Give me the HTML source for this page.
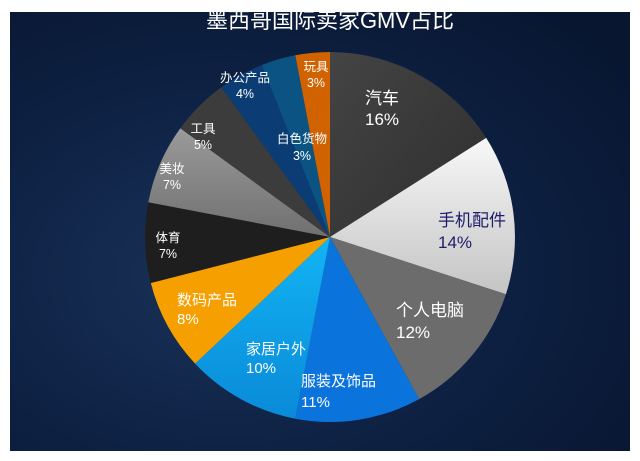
<!DOCTYPE html>
<html><head><meta charset="utf-8"><style>
html,body{margin:0;padding:0;background:#fff;width:640px;height:461px;overflow:hidden}
svg{display:block}
text{font-family:"Liberation Sans","Noto Sans CJK SC",sans-serif;fill:#fff}
</style></head><body>
<svg width="640" height="461" viewBox="0 0 640 461">
<defs>
<radialGradient id="bg" cx="0.35" cy="0.6" r="0.8">
<stop offset="0" stop-color="#1a3358"/><stop offset="0.5" stop-color="#0e2245"/><stop offset="1" stop-color="#081630"/>
</radialGradient>
<linearGradient id="g1" x1="0" y1="0" x2="1" y2="1"><stop offset="0" stop-color="#444"/><stop offset="1" stop-color="#2e2e2e"/></linearGradient>
<linearGradient id="g2" x1="0" y1="0" x2="0" y2="1"><stop offset="0" stop-color="#f8f8f8"/><stop offset="1" stop-color="#c4c4c4"/></linearGradient>
<linearGradient id="g5" x1="0" y1="0" x2="0" y2="1"><stop offset="0" stop-color="#12b4f4"/><stop offset="1" stop-color="#0a8ad8"/></linearGradient>
<linearGradient id="g8" x1="0" y1="0" x2="0" y2="1"><stop offset="0" stop-color="#9a9a9a"/><stop offset="1" stop-color="#707070"/></linearGradient>
</defs>
<rect x="10" y="12" width="620" height="439" fill="url(#bg)"/>
<g stroke="none">
<path d="M330 237 L330 52 A185 185 0 0 1 486.2 137.9Z" fill="url(#g1)"/>
<path d="M330 237 L486.2 137.9 A185 185 0 0 1 505.9 294.2Z" fill="url(#g2)"/>
<path d="M330 237 L505.9 294.2 A185 185 0 0 1 419.1 399.1Z" fill="#6c6c6c"/>
<path d="M330 237 L419.1 399.1 A185 185 0 0 1 295.3 418.7Z" fill="#0a74dc"/>
<path d="M330 237 L295.3 418.7 A185 185 0 0 1 195.1 363.6Z" fill="url(#g5)"/>
<path d="M330 237 L195.1 363.6 A185 185 0 0 1 150.8 283Z" fill="#f5a000"/>
<path d="M330 237 L150.8 283 A185 185 0 0 1 148.3 202.3Z" fill="#1e1e1e"/>
<path d="M330 237 L148.3 202.3 A185 185 0 0 1 180.3 128.3Z" fill="url(#g8)"/>
<path d="M330 237 L180.3 128.3 A185 185 0 0 1 221.3 87.3Z" fill="#3c3c3c"/>
<path d="M330 237 L221.3 87.3 A185 185 0 0 1 261.9 65Z" fill="#0b3d74"/>
<path d="M330 237 L261.9 65 A185 185 0 0 1 295.3 55.3Z" fill="#0b5382"/>
<path d="M330 237 L295.3 55.3 A185 185 0 0 1 330 52Z" fill="#d06200"/>
</g>
<text x="330" y="28" font-size="22" text-anchor="middle">墨西哥国际卖家GMV占比</text>
<g font-size="17">
<text x="382" y="104" text-anchor="middle">汽车</text><text x="382" y="125" text-anchor="middle">16%</text>
<text x="438" y="226" style="fill:#1c1c6a">手机配件</text><text x="438" y="248" style="fill:#1c1c6a">14%</text>
<text x="396" y="316">个人电脑</text><text x="396" y="338">12%</text>
</g>
<g font-size="15">
<text x="301" y="386">服装及饰品</text><text x="301" y="407">11%</text>
<text x="246" y="354">家居户外</text><text x="246" y="373">10%</text>
<text x="177" y="305">数码产品</text><text x="177" y="324">8%</text>
</g>
<g font-size="12.5" text-anchor="middle">
<text x="168" y="242">体育</text><text x="168" y="258">7%</text>
<text x="172" y="173">美妆</text><text x="172" y="189">7%</text>
<text x="203" y="133">工具</text><text x="203" y="149">5%</text>
<text x="245" y="82">办公产品</text><text x="245" y="98">4%</text>
<text x="302" y="143">白色货物</text><text x="302" y="160">3%</text>
<text x="316" y="71">玩具</text><text x="316" y="87">3%</text>
</g>
</svg>
</body></html>
